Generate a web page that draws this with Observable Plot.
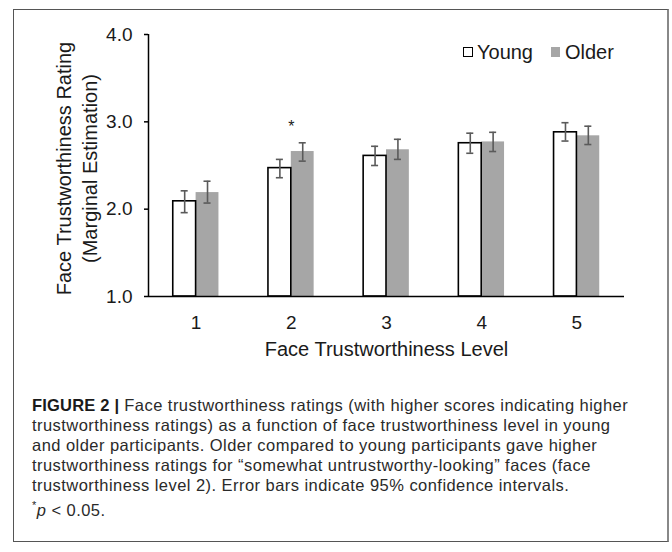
<!DOCTYPE html>
<html>
<head>
<meta charset="utf-8">
<script src="https://cdn.jsdelivr.net/npm/d3@7"></script>
<script src="https://cdn.jsdelivr.net/npm/@observablehq/plot@0.6"></script>
<style>
  html, body { margin: 0; padding: 0; background: #fff; }
  body { position: relative; width: 672px; height: 552px; overflow: hidden; font-family: "Liberation Sans", Arial, sans-serif; }
  #frame { position: absolute; left: 13px; top: 9px; width: 653px; height: 531px; border: 1px solid #555; border-right: 2px solid #888; }
  #chart { position: absolute; left: 0; top: 0; }
  #legend { position: absolute; left: 463px; top: 40px; height: 24px; display: flex; align-items: center; font-size: 20px; color: #1a1a1a; line-height: 24px; }
  #legend .sw { display: inline-block; width: 10px; height: 10px; box-sizing: border-box; }
  #caption { position: absolute; left: 32px; top: 395px; font-size: 16.5px; line-height: 20px; color: #2a2a2a; white-space: nowrap; letter-spacing: 0.45px; }
  #caption b { font-weight: bold; color: #1a1a1a; letter-spacing: 0.2px; }
</style>
</head>
<body>
<div id="frame"></div>
<div id="chart"></div>
<div id="legend"></div>
<div id="caption"></div>
<script>
// ---- data ----
const levels = [1, 2, 3, 4, 5];
const groups = ["Young", "Older"];
const youngMean = [2.09, 2.47, 2.61, 2.755, 2.88];
const youngLo   = [1.96, 2.36, 2.50, 2.64, 2.78];
const youngHi   = [2.21, 2.57, 2.72, 2.87, 2.99];
const olderMean = [2.19, 2.66, 2.68, 2.77, 2.84];
const olderLo   = [2.07, 2.55, 2.57, 2.66, 2.74];
const olderHi   = [2.32, 2.76, 2.80, 2.88, 2.95];
const sigLevels = [2];
const yTicks = [1, 2, 3, 4];
const yTitleLines = ["Face Trustworthiness Rating", "(Marginal Estimation)"];
const xTitle = "Face Trustworthiness Level";
const groupColors = {Young: "#ffffff", Older: "#a6a6a6"};
const captionLines = [
  "<b>FIGURE 2 |</b> Face trustworthiness ratings (with higher scores indicating higher",
  "trustworthiness ratings) as a function of face trustworthiness level in young",
  "and older participants. Older compared to young participants gave higher",
  "trustworthiness ratings for \u201csomewhat untrustworthy-looking\u201d faces (face",
  "trustworthiness level 2). Error bars indicate 95% confidence intervals.",
  "<sup style=\"font-size:11px\">*</sup><i>p</i> &lt; 0.05."
];

// ---- table ----
const rows = [];
levels.forEach((lv, i) => {
  rows.push({level: lv, group: "Young", mean: youngMean[i], lo: youngLo[i], hi: youngHi[i]});
  rows.push({level: lv, group: "Older", mean: olderMean[i], lo: olderLo[i], hi: olderHi[i]});
});

const W = 0.24;      // bar width in level units
const CAP = 0.037;   // half cap width in level units
const cx = d => d.level + (d.group === "Young" ? -W / 2 : W / 2);
const young = rows.filter(d => d.group === "Young");
const older = rows.filter(d => d.group === "Older");

const chart = Plot.plot({
  width: 672,
  height: 372,
  marginTop: 34,
  marginBottom: 76,
  marginLeft: 148,
  marginRight: 48,
  style: {fontFamily: "Liberation Sans, Arial, sans-serif", fontSize: "19px", color: "#1a1a1a", background: "transparent"},
  x: {domain: [0.5, 5.5]},
  y: {domain: [1, 4]},
  marks: [
    Plot.rectY(older, {x1: d => d.level, x2: d => d.level + W, y1: yTicks[0], y2: "mean", fill: groupColors.Older}),
    Plot.rectY(young, {x1: d => d.level - W, x2: d => d.level, y1: yTicks[0], y2: "mean", fill: groupColors.Young, stroke: "#000", strokeWidth: 1.6}),
    Plot.ruleX(rows, {x: cx, y1: "lo", y2: "hi", stroke: "#5a5a5a", strokeWidth: 1.6}),
    Plot.ruleY(rows, {y: "hi", x1: d => cx(d) - CAP, x2: d => cx(d) + CAP, stroke: "#5a5a5a", strokeWidth: 1.6}),
    Plot.ruleY(rows, {y: "lo", x1: d => cx(d) - CAP, x2: d => cx(d) + CAP, stroke: "#5a5a5a", strokeWidth: 1.6}),
    Plot.text(sigLevels, {x: d => d, y: d => d3.max(rows.filter(r => r.level === d), r => r.hi), text: () => "*", dy: -16, fontSize: 16, fill: "#1a1a1a"}),
    Plot.ruleX([0.5], {stroke: "#000", strokeWidth: 1.5}),
    Plot.ruleY([1], {stroke: "#000", strokeWidth: 1.5}),
    Plot.axisY(yTicks, {tickSize: 4, tickPadding: 12, tickFormat: d => d.toFixed(1), fontSize: 19, label: null, stroke: "#000", strokeWidth: 1.5}),
    Plot.axisX(levels, {tickSize: 0, tickPadding: 19, tickFormat: d => String(d), fontSize: 19, label: null}),
    Plot.text([yTitleLines.join("\n")], {frameAnchor: "left", textAnchor: "middle", lineAnchor: "middle", rotate: -90, dx: -73, dy: 3, fontSize: 20, lineHeight: 1.3, text: d => d, fill: "#1a1a1a"}),
    Plot.text([xTitle], {frameAnchor: "bottom", lineAnchor: "middle", dy: 53, fontSize: 20, text: d => d, fill: "#1a1a1a"})
  ]
});
document.getElementById("chart").appendChild(chart);

// legend
const legend = document.getElementById("legend");
groups.forEach((g, i) => {
  const sw = document.createElement("span");
  sw.className = "sw";
  sw.style.background = groupColors[g];
  sw.style.border = g === "Young" ? "1.5px solid #000" : "none";
  sw.style.marginRight = g === "Young" ? "4px" : "5px";
  if (g === "Older") { sw.style.width = "9px"; }
  const t = document.createElement("span");
  t.textContent = g;
  if (i < groups.length - 1) t.style.marginRight = "18px";
  legend.appendChild(sw);
  legend.appendChild(t);
});

document.getElementById("caption").innerHTML = captionLines.join("<br>");
</script>
</body>
</html>
